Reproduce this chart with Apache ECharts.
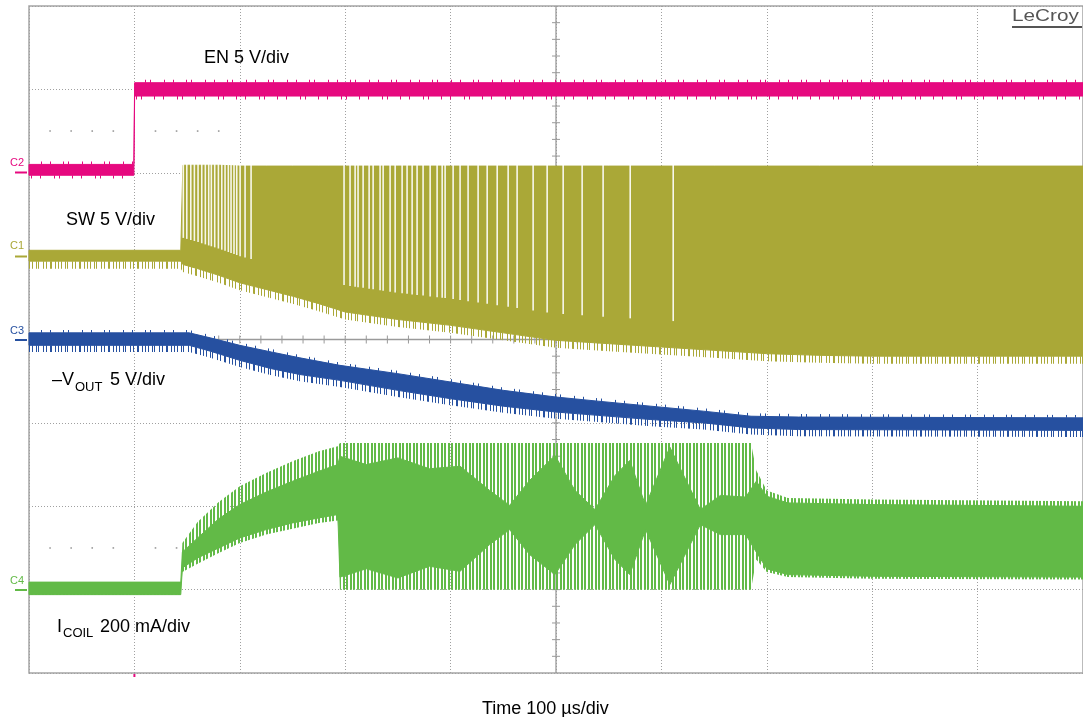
<!DOCTYPE html>
<html><head><meta charset="utf-8">
<script src="https://cdn.jsdelivr.net/npm/echarts@6/dist/echarts.min.js"></script>
<style>html,body{margin:0;padding:0;background:#fff}#c{width:1083px;height:717px}</style>
</head><body><div id="c"></div>
<script>
// ---- DATA (time in µs, amplitude in screen divisions: 0 = bottom graticule, 8 = top) ----
const timeRange = [0, 1000];          // 100 µs/div, 10 div
const divRange = [0, 8];
// EN (C2)
const enT  = [0, 99.5, 100.2, 1000];
const enHi = [6.10, 6.10, 7.08, 7.08];
const enLo = [5.97, 5.97, 6.92, 6.92];
// SW (C1) envelope
const swT  = [0, 144, 146, 160, 180, 200, 225, 250, 275, 300, 350, 400, 450, 500, 550, 600, 650, 700, 750, 800, 900, 1000];
const swHi = [5.07, 5.07, 6.09, 6.09, 6.09, 6.08, 6.08, 6.08, 6.08, 6.08, 6.08, 6.08, 6.08, 6.08, 6.08, 6.08, 6.08, 6.08, 6.08, 6.08, 6.08, 6.08];
const swLo = [4.94, 4.94, 4.90, 4.85, 4.77, 4.68, 4.60, 4.52, 4.43, 4.33, 4.24, 4.17, 4.08, 3.99, 3.95, 3.91, 3.87, 3.83, 3.81, 3.80, 3.80, 3.80];
// SW: times of the white gaps between switching pulses
const swGaps = [146.4, 149.7, 153.5, 156.9, 160.4, 163.9, 167.3, 170.5, 173.0, 176.2, 179.7, 182.9, 186.0, 189.1, 191.7, 194.5, 197.1, 200.3, 205.0, 210.7,
  298.9, 304.6, 309.4, 312.2, 317.0, 322.7, 326.5, 333.1, 336.0, 342.6, 347.4, 354.0, 358.7, 363.5, 368.2, 373.9, 380.6, 387.2, 392.0, 394.8,
  402.4, 409.0, 416.6, 426.1, 434.7, 444.2, 454.6, 463.1, 478.3, 491.6, 506.8, 524.8, 544.7, 570.4, 611.2];
// -VOUT (C3)
const voT  = [0, 152, 172, 200, 230, 257, 295, 350, 400, 450, 500, 540, 590, 640, 685, 730, 1000];
const voHi = [4.08, 4.08, 4.02, 3.93, 3.85, 3.78, 3.69, 3.59, 3.49, 3.39, 3.31, 3.26, 3.20, 3.14, 3.08, 3.07, 3.06];
const voLo = [3.93, 3.93, 3.86, 3.75, 3.65, 3.58, 3.51, 3.39, 3.29, 3.20, 3.13, 3.09, 3.04, 3.00, 2.94, 2.92, 2.91];
// ICOIL (C4): outer envelope (pulse tips) and inner solid region
const icOutT  = [0, 144, 145.5, 160, 180, 200, 225, 250, 275, 293, 295, 685, 690, 700, 720, 800, 1000];
const icOutHi = [1.09, 1.09, 1.56, 1.81, 2.05, 2.24, 2.40, 2.54, 2.66, 2.72, 2.76, 2.76, 2.43, 2.19, 2.10, 2.08, 2.06];
const icOutLo = [0.94, 0.94, 1.21, 1.31, 1.44, 1.56, 1.66, 1.73, 1.80, 1.83, 1.00, 1.00, 1.36, 1.21, 1.15, 1.13, 1.12];
const icInT  = [0, 144, 145.5, 160, 180, 200, 225, 250, 275, 293, 295, 320, 350, 380, 409, 437, 456, 475, 499, 518, 537, 556, 570, 585, 608, 637, 656, 680, 690, 700, 720, 800, 1000];
const icInHi = [1.09, 1.09, 1.45, 1.62, 1.85, 2.02, 2.17, 2.30, 2.42, 2.50, 2.60, 2.50, 2.58, 2.45, 2.48, 2.19, 2.01, 2.31, 2.61, 2.19, 1.96, 2.37, 2.55, 2.01, 2.71, 1.96, 2.13, 2.11, 2.30, 2.12, 2.04, 2.02, 2.00];
const icInLo = [0.94, 0.94, 1.26, 1.38, 1.50, 1.62, 1.72, 1.80, 1.86, 1.90, 1.15, 1.25, 1.14, 1.28, 1.22, 1.54, 1.72, 1.42, 1.18, 1.54, 1.78, 1.36, 1.18, 1.72, 1.06, 1.78, 1.66, 1.66, 1.45, 1.25, 1.18, 1.16, 1.15];

// ---- STYLE ----
const C_EN = '#e6097f', C_SW = '#aaa837', C_VO = '#2650a0', C_IC = '#62ba47';
const FONT = '"Liberation Sans", Arial, sans-serif';

function stripe(color, bits) {
  const c = document.createElement('canvas');
  c.width = bits.length; c.height = 4;
  const ctx = c.getContext('2d');
  ctx.fillStyle = color;
  bits.forEach((b, i) => { if (b) ctx.fillRect(i, 0, 1, 4); });
  return { image: c, repeat: 'repeat' };
}
const FRINGE_DENSE  = [1,0,0,1,0,0,0,1,0,1,0,0,0,0,1,0,0,1,0,0,0,1,1,0,0,0,1,0,0];
const FRINGE_SPARSE = [1,0,0,0,0,0,0,0,0,1,0,0,0,0,0,0,0,0,0,0,0,0,1,0,0,0,0,1,0,0,0,0,0,0,0,0,0,0,0,0,0];
function interp(T, V, t) {
  for (let i = 1; i < T.length; i++) if (t <= T[i]) { const f = (t - T[i-1]) / (T[i] - T[i-1]); return V[i-1] + f * (V[i] - V[i-1]); }
  return V[V.length - 1];
}
function band(T, Hi, Lo, style, z) {
  return {
    type: 'custom', coordinateSystem: 'cartesian2d', silent: true, z: z, data: [[0, 0]],
    renderItem: (p, api) => {
      const pts = [];
      for (let i = 0; i < T.length; i++) pts.push(api.coord([T[i], Hi[i]]));
      for (let i = T.length - 1; i >= 0; i--) pts.push(api.coord([T[i], Lo[i]]));
      return { type: 'polygon', shape: { points: pts }, style: style };
    }
  };
}
const shift = (A, d) => A.map(v => v + d);

const chart = echarts.init(document.getElementById('c'), null, { renderer: 'canvas' });

const crossSeries = {
  type: 'custom', coordinateSystem: 'cartesian2d', silent: true, z: 1, data: [[0, 0]],
  renderItem: (p, api) => {
    const ch = [];
    const ln = (a, b, w) => ch.push({ type: 'line', shape: { x1: a[0], y1: a[1], x2: b[0], y2: b[1] }, style: { stroke: '#9a9a9a', lineWidth: w || 1 } });
    const midT = (timeRange[0] + timeRange[1]) / 2, midY = (divRange[0] + divRange[1]) / 2;
    ln(api.coord([midT, divRange[0]]), api.coord([midT, divRange[1]]), 1.3);
    ln(api.coord([timeRange[0], midY]), api.coord([timeRange[1], midY]), 1.3);
    for (let t = 20; t < 1000; t += 20) { const q = api.coord([t, midY]); ln([q[0], q[1] - 4], [q[0], q[1] + 4]); }
    for (let y = 0.2; y < 7.9; y += 0.2) { const q = api.coord([midT, y]); ln([q[0] - 4, q[1]], [q[0] + 4, q[1]]); }
    [1.5, 6.5].forEach(y => {
      for (let t = 20; t < 200; t += 20) { if (t % 100 === 0) continue; const q = api.coord([t, y]); ch.push({ type: 'rect', shape: { x: q[0] - 0.8, y: q[1] - 0.8, width: 1.6, height: 1.6 }, style: { fill: '#999' } }); }
    });
    const tq = api.coord([100, 0]);
    ch.push({ type: 'rect', shape: { x: tq[0] - 1, y: tq[1] + 1, width: 2, height: 3 }, style: { fill: C_EN } });
    return { type: 'group', children: ch };
  }
};

const gapSeries = {
  type: 'custom', coordinateSystem: 'cartesian2d', silent: true, z: 4,
  data: swGaps.map(t => [t]),
  renderItem: (p, api) => {
    const t = api.value(0);
    const top = api.coord([t, interp(swT, swHi, t) + 0.02]);
    const bot = api.coord([t, interp(swT, swLo, t) + 0.32]);
    return { type: 'rect', shape: { x: top[0] - 0.8, y: top[1], width: 1.6, height: bot[1] - top[1] }, style: { fill: 'rgba(255,255,255,0.9)' } };
  }
};

const txt = (x, y, text, size, color, extra) => Object.assign({ type: 'text', x: x, y: y, z: 100, style: Object.assign({ text: text, font: `${size}px ${FONT}`, fill: color, verticalAlign: 'middle' }, extra || {}) });

chart.setOption({
  animation: false,
  backgroundColor: '#ffffff',
  grid: { left: 29, top: 6, width: 1054, height: 667, show: true, borderColor: '#a5a5a5', borderWidth: 1.5 },
  xAxis: { type: 'value', min: timeRange[0], max: timeRange[1], interval: 100,
    axisLabel: { show: false }, axisTick: { show: false }, axisLine: { show: false },
    splitLine: { show: true, lineStyle: { color: '#a0a0a0', type: [1, 2], width: 1 } } },
  yAxis: { type: 'value', min: divRange[0], max: divRange[1], interval: 1,
    axisLabel: { show: false }, axisTick: { show: false }, axisLine: { show: false },
    splitLine: { show: true, lineStyle: { color: '#a0a0a0', type: [1, 2], width: 1 } } },
  series: [
    crossSeries,
    // EN
    band(enT, shift(enHi, 0.035), enHi, { fill: stripe(C_EN, FRINGE_SPARSE) }, 3),
    band(enT, enLo, shift(enLo, -0.04), { fill: stripe(C_EN, FRINGE_SPARSE.slice().reverse()) }, 3),
    band(enT, enHi, enLo, { fill: C_EN, stroke: C_EN, lineWidth: 1 }, 3),
    // SW
    band(swT, swLo, shift(swLo, -0.09), { fill: stripe(C_SW, FRINGE_DENSE) }, 3),
    band(swT, swHi, swLo, { fill: C_SW, stroke: C_SW, lineWidth: 1 }, 3),
    gapSeries,
    // -VOUT
    band(voT, shift(voHi, 0.035), voHi, { fill: stripe(C_VO, FRINGE_SPARSE) }, 3),
    band(voT, voLo, shift(voLo, -0.08), { fill: stripe(C_VO, FRINGE_DENSE) }, 3),
    band(voT, voHi, voLo, { fill: C_VO, stroke: C_VO, lineWidth: 1 }, 3),
    // ICOIL
    band(icOutT, icOutHi, icOutLo, { fill: stripe(C_IC, [1, 1, 0, 1, 1, 0, 0]) }, 3),
    band(icInT, icInHi, icInLo, { fill: C_IC, stroke: C_IC, lineWidth: 1 }, 4)
  ],
  graphic: [
    txt(204, 58, 'EN 5 V/div', 18, '#000'),
    txt(66, 220, 'SW 5 V/div', 18, '#000'),
    txt(52, 380, '–V', 18, '#000'),
    txt(75, 387, 'OUT', 13, '#000'),
    txt(110, 380, '5 V/div', 18, '#000'),
    txt(57, 627, 'I', 18, '#000'),
    txt(63, 633, 'COIL', 13, '#000'),
    txt(100, 627, '200 mA/div', 18, '#000'),
    txt(482, 709, 'Time 100 µs/div', 18, '#000'),
    Object.assign(txt(1012, 16, 'LeCroy', 17, '#555'), { scaleX: 1.22 }),
    { type: 'rect', z: 100, shape: { x: 1012, y: 26, width: 70, height: 2 }, style: { fill: '#555' } },
    txt(10, 163, 'C2', 11, C_EN), { type: 'rect', z: 100, shape: { x: 15, y: 171.5, width: 12, height: 2 }, style: { fill: C_EN } },
    txt(10, 246, 'C1', 11, C_SW), { type: 'rect', z: 100, shape: { x: 15, y: 255.5, width: 12, height: 2 }, style: { fill: C_SW } },
    txt(10, 331, 'C3', 11, C_VO), { type: 'rect', z: 100, shape: { x: 15, y: 339, width: 12, height: 2 }, style: { fill: C_VO } },
    txt(10, 581, 'C4', 11, C_IC), { type: 'rect', z: 100, shape: { x: 15, y: 589, width: 12, height: 2 }, style: { fill: C_IC } }
  ]
});
</script></body></html>
